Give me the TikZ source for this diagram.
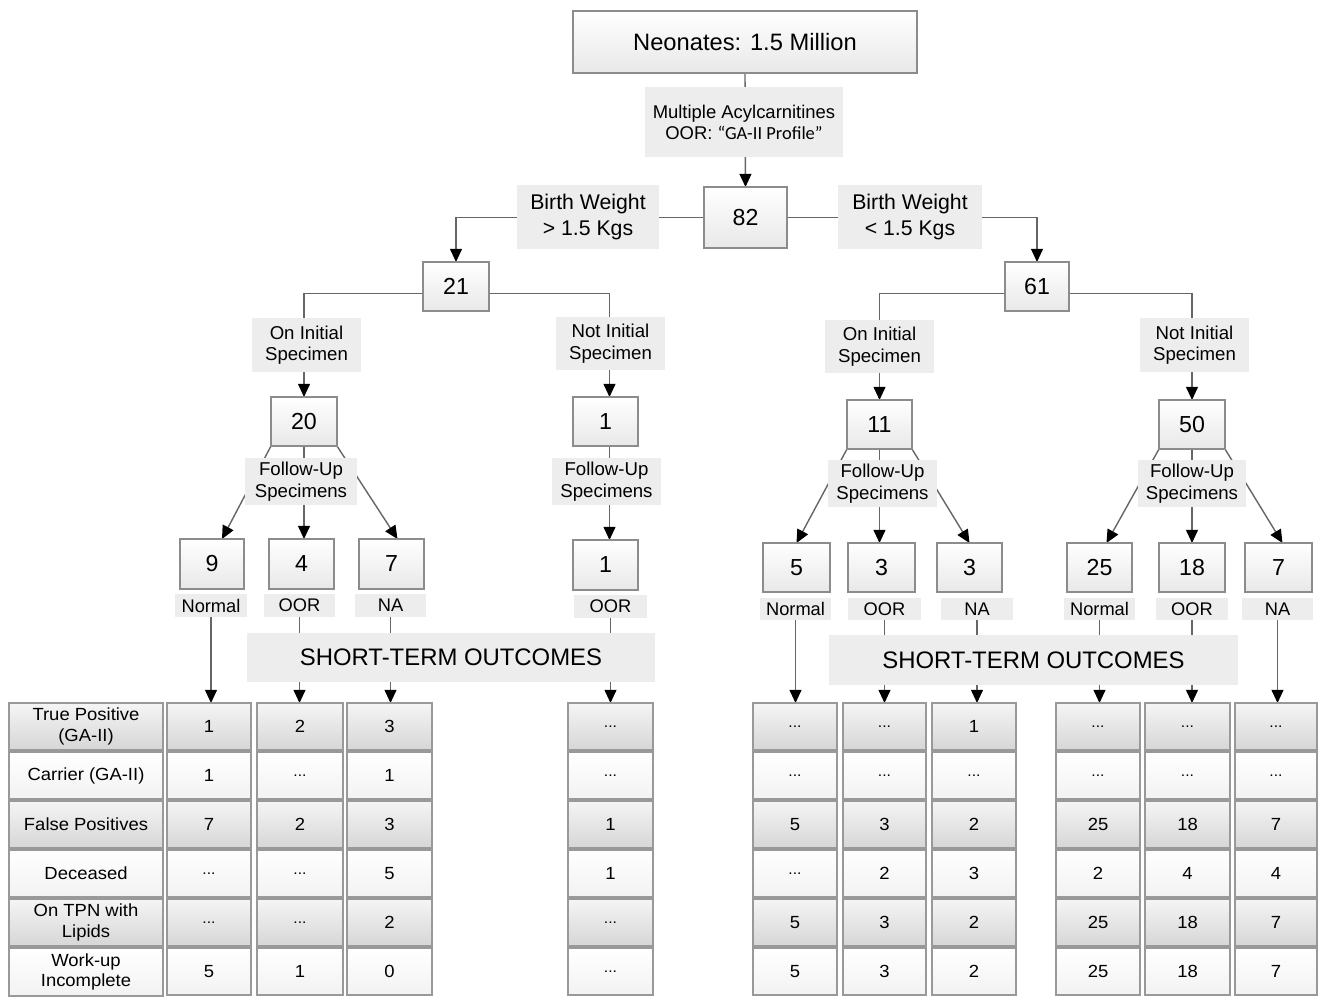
\documentclass[tikz,border=0pt]{standalone}
\usepackage{fontspec}
\setmainfont{Liberation Sans}
\newfontfamily\carlito{Carlito}
\newfontfamily\tabfont[FakeStretch=1.05]{Liberation Sans}
\usetikzlibrary{arrows.meta,shadows,backgrounds,calc}
\newlength\pxl \setlength\pxl{0.02cm}
\newcommand\bx[7]{%
  \pgfmathsetmacro\bxcx{((#3)+(#5))/2}%
  \pgfmathsetmacro\bxcy{((#4)+(#6))/2}%
  \pgfmathsetmacro\bxw{(#5)-(#3)}%
  \pgfmathsetmacro\bxh{(#6)-(#4)}%
  \node[#2,minimum width=\bxw\pxl,minimum height=\bxh\pxl] (#1) at (\bxcx,\bxcy) {#7};}
\newcommand\celldots{{\fontsize{8.5}{9}\selectfont ...}}
\begin{document}
\begin{tikzpicture}[x=0.02cm,y=-0.02cm,
  shad/.style={drop shadow={shadow xshift=0.7pt,shadow yshift=-0.7pt,opacity=0.22}},
  numbox/.style={draw=black!45,line width=0.7pt,top color=white,bottom color=black!9,
    inner sep=0pt,outer sep=0pt,align=center,font=\fontsize{13.2}{15}\selectfont,shad},
  lbl/.style={fill=black!7,inner sep=0pt,outer sep=0pt,align=center},
  lblbig/.style={lbl,font=\fontsize{12.1}{14.7}\selectfont},
  lblmid/.style={lbl,font=\fontsize{10.6}{12.3}\selectfont},
  lblsmall/.style={lbl,font=\fontsize{10.4}{12}\selectfont},
  stobox/.style={lbl,font=\fontsize{13.6}{16}\selectfont},
  cellbase/.style={draw=black!40,line width=0.7pt,inner sep=0pt,outer sep=0pt,align=center,
    font=\tabfont\fontsize{10}{11.8}\selectfont,shad},
  cellg/.style={cellbase,top color=black!4,bottom color=black!16},
  cellw/.style={cellbase,top color=white,bottom color=black!5},
  cell1/.style={cellg},cell2/.style={cellw},cell3/.style={cellg},
  cell4/.style={cellw},cell5/.style={cellg},cell6/.style={cellw},
  conn/.style={draw=black!60,line width=0.8pt},
  arr/.style={conn,-{Triangle[length=7.5pt,width=6.8pt,color=black]}}]
\useasboundingbox (0,0) rectangle (1319,998);

% top
\bx{neo}{numbox,font=\fontsize{13.5}{16}\selectfont}{573}{11}{917}{73}{Neonates: 1.5 Million}
\bx{mult}{lbl,font=\fontsize{10.5}{12}\selectfont}{645}{87}{843}{157}{Multiple Acylcarnitines\\OOR: {\carlito “GA-II Profile”}}
\bx{n82}{numbox}{704}{187}{787}{248}{82}
\bx{bw1}{lblbig}{517}{185}{659}{249}{Birth Weight\\> 1.5 Kgs}
\bx{bw2}{lblbig}{838}{185}{982}{249}{Birth Weight\\< 1.5 Kgs}

% level 2
\bx{n21}{numbox}{423}{262}{489}{311}{21}
\bx{n61}{numbox}{1005}{262}{1069}{311}{61}
\bx{oi1}{lblmid}{252}{318}{361}{372}{On Initial\\Specimen}
\bx{ni1}{lblmid}{556}{317}{665}{370}{Not Initial\\Specimen}
\bx{oi2}{lblmid}{825}{320}{934}{373}{On Initial\\Specimen}
\bx{ni2}{lblmid}{1140}{318}{1249}{372}{Not Initial\\Specimen}

% level 3
\bx{n20}{numbox}{271}{397}{337}{446}{20}
\bx{n1a}{numbox}{573}{397}{638}{446}{1}
\bx{n11}{numbox}{847}{400}{912}{449}{11}
\bx{n50}{numbox}{1159}{400}{1225}{449}{50}
\bx{fu1}{lblmid}{245}{458}{357}{505}{Follow-Up\\Specimens}
\bx{fu2}{lblmid}{552}{458}{661}{505}{Follow-Up\\Specimens}
\bx{fu3}{lblmid}{828}{460}{937}{507}{Follow-Up\\Specimens}
\bx{fu4}{lblmid}{1138}{460}{1246}{507}{Follow-Up\\Specimens}

% level 4
\bx{n9}{numbox}{180}{539}{244}{589}{9}
\bx{n4}{numbox}{269}{539}{334}{589}{4}
\bx{n7}{numbox}{359}{539}{424}{589}{7}
\bx{n1b}{numbox}{573}{540}{638}{590}{1}
\bx{n5}{numbox}{763}{543}{830}{592}{5}
\bx{n3a}{numbox}{848}{543}{915}{592}{3}
\bx{n3b}{numbox}{937}{543}{1002}{592}{3}
\bx{n25}{numbox}{1067}{543}{1132}{592}{25}
\bx{n18}{numbox}{1159}{543}{1225}{592}{18}
\bx{n7b}{numbox}{1245}{543}{1312}{592}{7}

\bx{l9}{lblsmall}{175}{594}{247}{617}{Normal}
\bx{l4}{lblsmall}{264}{594}{335}{617}{OOR}
\bx{l7}{lblsmall}{355}{594}{426}{617}{NA}
\bx{l1b}{lblsmall}{574}{595}{647}{618}{OOR}
\bx{l5}{lblsmall}{760}{598}{831}{620}{Normal}
\bx{l3a}{lblsmall}{848}{598}{921}{620}{OOR}
\bx{l3b}{lblsmall}{941}{598}{1013}{620}{NA}
\bx{l25}{lblsmall}{1064}{598}{1135}{620}{Normal}
\bx{l18}{lblsmall}{1156}{598}{1228}{620}{OOR}
\bx{l7b}{lblsmall}{1242}{598}{1313}{620}{NA}

\bx{sto1}{stobox}{247}{633}{655}{682}{SHORT-TERM OUTCOMES}
\bx{sto2}{stobox}{829}{635}{1238}{685}{SHORT-TERM OUTCOMES}

% table: row labels
\bx{T1}{cell1}{9}{703}{163}{750}{True Positive\\(GA-II)}
\bx{T2}{cell2}{9}{752}{163}{799}{Carrier (GA-II)}
\bx{T3}{cell3}{9}{801}{163}{848}{False Positives}
\bx{T4}{cell4}{9}{850}{163}{897}{Deceased}
\bx{T5}{cell5}{9}{899}{163}{946}{On TPN with\\Lipids}
\bx{T6}{cell6}{9}{948}{163}{996}{Work-up\\Incomplete}

% left table columns
\foreach \r/\v in {1/1,2/1,3/7,4/\celldots,5/\celldots,6/5}
  {\bx{La\r}{cell\r}{167}{703+49*(\r-1)}{251}{750+49*(\r-1)}{\v}}
\foreach \r/\v in {1/2,2/\celldots,3/2,4/\celldots,5/\celldots,6/1}
  {\bx{Lb\r}{cell\r}{257}{703+49*(\r-1)}{343}{750+49*(\r-1)}{\v}}
\foreach \r/\v in {1/3,2/1,3/3,4/5,5/2,6/0}
  {\bx{Lc\r}{cell\r}{347}{703+49*(\r-1)}{432}{750+49*(\r-1)}{\v}}
\foreach \r/\v in {1/\celldots,2/\celldots,3/1,4/1,5/\celldots,6/\celldots}
  {\bx{Ld\r}{cell\r}{568}{703+49*(\r-1)}{653}{750+49*(\r-1)}{\v}}

% right table columns
\foreach \r/\v in {1/\celldots,2/\celldots,3/5,4/\celldots,5/5,6/5}
  {\bx{Ra\r}{cell\r}{753}{703+49*(\r-1)}{837}{750+49*(\r-1)}{\v}}
\foreach \r/\v in {1/\celldots,2/\celldots,3/3,4/2,5/3,6/3}
  {\bx{Rb\r}{cell\r}{843}{703+49*(\r-1)}{926}{750+49*(\r-1)}{\v}}
\foreach \r/\v in {1/1,2/\celldots,3/2,4/3,5/2,6/2}
  {\bx{Rc\r}{cell\r}{932}{703+49*(\r-1)}{1016}{750+49*(\r-1)}{\v}}
\foreach \r/\v in {1/\celldots,2/\celldots,3/25,4/2,5/25,6/25}
  {\bx{Rd\r}{cell\r}{1056}{703+49*(\r-1)}{1140}{750+49*(\r-1)}{\v}}
\foreach \r/\v in {1/\celldots,2/\celldots,3/18,4/4,5/18,6/18}
  {\bx{Re\r}{cell\r}{1145}{703+49*(\r-1)}{1230}{750+49*(\r-1)}{\v}}
\foreach \r/\v in {1/\celldots,2/\celldots,3/7,4/4,5/7,6/7}
  {\bx{Rf\r}{cell\r}{1235}{703+49*(\r-1)}{1317}{750+49*(\r-1)}{\v}}

\begin{scope}[on background layer]
\fill[white] (0,0) rectangle (1319,998);
\draw[arr] (neo.south) -- (n82.north);
\draw[arr] (n82.west) -| (n21.north);
\draw[arr] (n82.east) -| (n61.north);
\draw[arr] ($(n21.west)+(0,7)$) -| (n20.north);
\draw[arr] ($(n21.east)+(0,7)$) -| ($(n1a.north)+(4,0)$);
\draw[arr] ($(n61.west)+(0,7)$) -| (n11.north);
\draw[arr] ($(n61.east)+(0,7)$) -| (n50.north);
\draw[arr] (n20.south) -- (n20.south |- n4.north);
\draw[arr] (n20.south west) -- ($(n9.north)+(10,0)$);
\draw[arr] (n20.south east) -- ($(n7.north)+(6,0)$);
\draw[arr] ($(n1a.south)+(4,0)$) -- ($(n1b.north)+(4,0)$);
\draw[arr] (n11.south) -- (n11.south |- n3a.north);
\draw[arr] (n11.south west) -- (n5.north);
\draw[arr] (n11.south east) -- (n3b.north);
\draw[arr] (n50.south) -- (n18.north);
\draw[arr] (n50.south west) -- ($(n25.north)+(7,0)$);
\draw[arr] (n50.south east) -- ($(n7b.north)+(4,0)$);
\foreach \a/\b in {l9/La1,l4/Lb1,l7/Lc1,l1b/Ld1,l5/Ra1,l3a/Rb1,l3b/Rc1,l25/Rd1,l18/Re1,l7b/Rf1}
  \draw[arr] (\a.south) -- (\a.south |- \b.north);
\end{scope}
\end{tikzpicture}
\end{document}
